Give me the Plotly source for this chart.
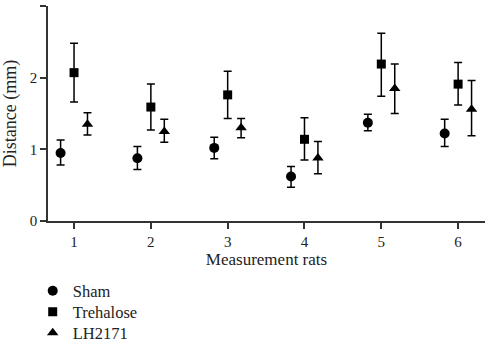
import plotly.graph_objects as go

groups = [1, 2, 3, 4, 5, 6]
series_names = ["Sham", "Trehalose", "LH2171"]
sham = [0.95, 0.875, 1.02, 0.62, 1.37, 1.22]
sham_hi = [1.13, 1.04, 1.17, 0.76, 1.49, 1.42]
sham_lo = [0.78, 0.72, 0.87, 0.47, 1.26, 1.04]
treh = [2.07, 1.59, 1.76, 1.14, 2.19, 1.91]
treh_hi = [2.48, 1.91, 2.09, 1.44, 2.62, 2.21]
treh_lo = [1.66, 1.27, 1.43, 0.85, 1.74, 1.62]
lh = [1.35, 1.25, 1.30, 0.88, 1.85, 1.56]
lh_hi = [1.51, 1.42, 1.43, 1.11, 2.19, 1.96]
lh_lo = [1.20, 1.10, 1.16, 0.66, 1.50, 1.19]
y_ticks = [0, 1, 2, 3]

offsets = [-0.175, 0.0, 0.175]
symbols = ["circle", "square", "triangle-up"]
sizes = [10, 9, 10]
data = [(sham, sham_hi, sham_lo), (treh, treh_hi, treh_lo), (lh, lh_hi, lh_lo)]
legend_ids = ["legend", "legend2", "legend3"]
legend_y = [-0.326, -0.4233, -0.521]

font = "Liberation Serif, Times New Roman, serif"
fig = go.Figure()
for i, (name, (v, hi, lo)) in enumerate(zip(series_names, data)):
    fig.add_trace(go.Scatter(
        x=[g + offsets[i] for g in groups], y=v, mode="markers", name=name,
        legend=legend_ids[i],
        marker=dict(symbol=symbols[i], size=sizes[i], color="black"),
        error_y=dict(type="data", symmetric=False,
                     array=[h - a for h, a in zip(hi, v)],
                     arrayminus=[a - l for a, l in zip(v, lo)],
                     color="black", thickness=1.5, width=4),
    ))

legend_common = dict(x=-0.035, xanchor="left", yanchor="middle", orientation="v",
                     itemwidth=30, font=dict(family=font, size=16.5, color="#222"),
                     bgcolor="rgba(0,0,0,0)")
legends = {lid: dict(legend_common, y=ly) for lid, ly in zip(legend_ids, legend_y)}

fig.update_layout(
    width=485, height=343,
    margin=dict(l=48, r=0, t=6, b=122, autoexpand=False),
    plot_bgcolor="white", paper_bgcolor="white",
    font=dict(family=font, size=15, color="#222"),
    showlegend=True,
    **legends,
    xaxis=dict(range=[0.661, 6.35], tickvals=groups, ticktext=[str(g) for g in groups],
               showgrid=False, zeroline=False, showline=True, linecolor="#333", linewidth=1.5,
               ticks="outside", ticklen=6, tickwidth=1.5, tickcolor="#333",
               tickfont=dict(family=font, size=15),
               title=dict(text="Measurement rats", font=dict(family=font, size=17), standoff=4)),
    yaxis=dict(range=[0, 3], tickvals=y_ticks, showgrid=False, zeroline=False,
               showline=True, linecolor="#333", linewidth=1.5,
               ticks="outside", ticklen=6, tickwidth=1.5, tickcolor="#333",
               tickfont=dict(family=font, size=15),
               title=dict(text="Distance (mm)", font=dict(family=font, size=18), standoff=9)),
)
fig.write_html("out.html", config={"displayModeBar": False},
               post_script="document.body.style.margin='0';")
